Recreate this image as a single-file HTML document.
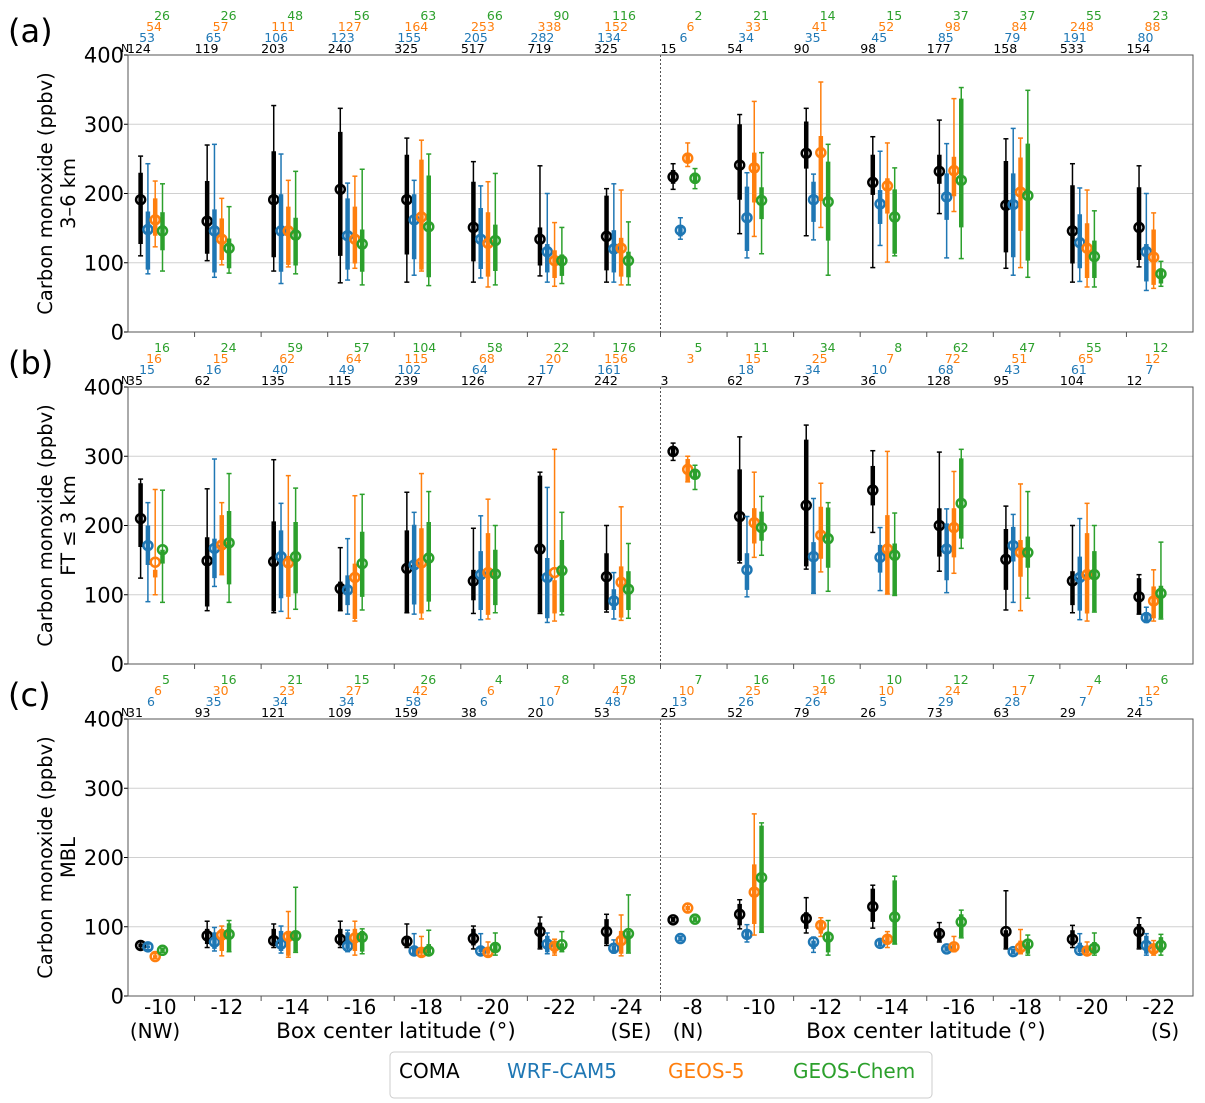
<!DOCTYPE html>
<html><head><meta charset="utf-8">
<style>
html,body{margin:0;padding:0;background:#fff;}
svg{display:block;font-family:"DejaVu Sans","Liberation Sans",sans-serif;}
</style></head>
<body>
<svg id="chart" width="1205" height="1103" viewBox="0 0 1205 1103" xmlns="http://www.w3.org/2000/svg">
<g id="legend">
<rect x="390" y="1052" width="542" height="46" fill="#fff" stroke="#ccc" stroke-width="1" rx="4"/>
<text x="399" y="1078" font-size="20" fill="#000">COMA</text>
<text x="507" y="1078" font-size="20" fill="#1f77b4">WRF-CAM5</text>
<text x="668" y="1078" font-size="20" fill="#ff7f0e">GEOS-5</text>
<text x="793" y="1078" font-size="20" fill="#2ca02c">GEOS-Chem</text>
</g>
</svg>
<script>
// ---------- data ----------
const categories = ["-10","-12","-14","-16","-18","-20","-22","-24","-8","-10","-12","-14","-16","-18","-20","-22"];
const yTicks = [0,100,200,300,400];

// Panel (a) 3-6 km
const a_coma_mean=[191,160,191,206,191,151,134,138,224,241,258,216,232,183,146,151];
const a_coma_lo=[110,103,88,71,72,72,81,72,206,142,139,93,171,92,72,94];
const a_coma_hi=[254,270,327,323,280,246,240,207,243,314,323,282,306,279,243,240];
const a_coma_q1=[127,113,108,110,112,102,96,89,214,191,236,198,214,115,99,104];
const a_coma_q3=[230,218,261,289,256,217,151,197,234,300,304,256,256,247,212,209];
const a_wrf_mean=[148,146,146,139,162,134,116,120,147,165,191,185,195,184,129,116];
const a_wrf_lo=[84,79,70,75,82,78,72,72,134,107,133,125,107,82,73,60];
const a_wrf_hi=[243,271,257,215,219,211,200,214,165,230,228,261,272,294,208,200];
const a_wrf_q1=[90,86,87,90,105,91,86,86,138,117,159,156,162,108,92,73];
const a_wrf_q3=[174,177,199,193,199,179,127,147,152,210,217,205,229,229,170,127];
const a_g5_mean=[162,134,146,134,166,128,103,121,251,237,259,211,233,202,121,108];
const a_g5_lo=[123,97,94,92,88,65,66,68,239,138,151,101,174,93,65,63];
const a_g5_hi=[218,193,219,225,277,217,158,205,273,333,361,273,337,280,205,172];
const a_g5_q1=[139,104,97,99,90,80,78,80,244,187,189,171,196,146,78,68];
const a_g5_q3=[193,164,181,181,249,173,118,136,258,259,283,222,253,252,157,148];
const a_chem_mean=[146,121,140,127,152,132,103,103,222,190,188,166,219,197,109,84];
const a_chem_lo=[88,85,84,68,67,68,70,68,207,113,82,110,106,79,65,66];
const a_chem_hi=[214,181,232,235,257,229,151,159,236,259,271,237,353,349,175,102];
const a_chem_q1=[118,92,96,87,79,88,81,79,214,163,132,113,151,103,78,70];
const a_chem_q3=[173,135,165,148,226,155,112,116,230,209,246,206,337,272,132,92];
const a_n_coma=[124,119,203,240,325,517,719,325,15,54,90,98,177,158,533,154];
const a_n_wrf=[53,65,106,123,155,205,282,134,6,34,35,45,85,79,191,80];
const a_n_g5=[54,57,111,127,164,253,338,152,6,33,41,52,98,84,248,88];
const a_n_chem=[26,26,48,56,63,66,90,116,2,21,14,15,37,37,55,23];

// Panel (b) FT <= 3 km
const b_coma_mean=[210,149,148,109,138,120,166,126,307,213,229,251,200,151,120,97];
const b_coma_lo=[124,77,74,77,74,73,73,75,294,146,137,190,134,78,74,72];
const b_coma_hi=[267,253,295,168,248,196,277,200,319,328,345,308,306,228,200,129];
const b_coma_q1=[169,83,76,77,75,92,74,78,300,149,141,229,155,107,85,73];
const b_coma_q3=[261,183,206,119,193,136,272,160,313,281,324,286,225,195,134,124];
const b_wrf_mean=[171,167,155,107,143,129,125,91,null,136,155,154,166,171,125,67];
const b_wrf_lo=[90,112,76,72,72,64,60,65,null,97,102,106,103,89,64,60];
const b_wrf_hi=[233,296,232,181,219,214,255,132,null,213,239,197,224,216,210,82];
const b_wrf_q1=[143,124,95,85,86,78,66,78,null,107,102,132,121,148,77,62];
const b_wrf_q3=[200,181,193,128,201,163,153,108,null,160,176,172,203,198,155,75];
const b_g5_mean=[147,172,146,125,146,132,132,118,281,204,186,166,197,161,129,91];
const b_g5_lo=[100,129,66,62,65,65,62,63,263,154,133,101,131,77,62,62];
const b_g5_hi=[252,233,272,243,275,238,310,227,300,277,261,307,278,260,232,136];
const b_g5_q1=[125,130,97,65,73,71,73,67,263,174,152,101,154,126,73,66];
const b_g5_q3=[136,215,156,145,196,189,121,141,296,225,227,215,225,179,189,112];
const b_chem_mean=[165,175,155,145,153,130,135,108,274,197,181,157,232,161,129,102];
const b_chem_lo=[89,89,79,78,77,74,71,66,252,157,105,99,167,95,75,65];
const b_chem_hi=[251,275,254,245,249,200,219,174,287,242,233,218,310,249,200,176];
const b_chem_q1=[145,115,102,97,90,85,75,78,268,178,139,99,181,139,76,66];
const b_chem_q3=[165,221,205,191,205,165,179,134,280,220,226,174,297,184,163,113];
const b_n_coma=[35,62,135,115,239,126,27,242,3,62,73,36,128,95,104,12];
const b_n_wrf=[15,16,40,49,102,64,17,161,"",18,34,10,68,43,61,7];
const b_n_g5=[16,15,62,64,115,68,20,156,3,15,25,7,72,51,65,12];
const b_n_chem=[16,24,59,57,104,58,22,176,5,11,34,8,62,47,55,12];

// Panel (c) MBL
const c_coma_mean=[73,87,80,82,79,83,93,93,110,118,112,129,90,93,82,93];
const c_coma_lo=[68,70,70,70,70,68,68,73,107,97,91,98,78,68,70,68];
const c_coma_hi=[78,108,104,108,104,101,114,118,113,139,142,160,106,152,102,113];
const c_coma_q1=[70,75,73,73,73,73,69,75,108,102,97,107,79,69,73,69];
const c_coma_q3=[76,97,97,97,85,97,106,111,112,133,121,155,97,95,95,104];
const c_wrf_mean=[71,78,75,72,65,65,75,69,83,89,78,76,68,64,66,73];
const c_wrf_lo=[67,65,62,64,61,61,61,62,80,78,63,70,65,61,61,59];
const c_wrf_hi=[75,99,101,95,90,90,91,81,86,103,85,80,71,67,90,90];
const c_wrf_q1=[69,68,65,68,62,63,63,63,81,82,68,72,66,62,63,61];
const c_wrf_q3=[73,92,94,92,73,73,87,73,85,95,80,79,70,66,77,87];
const c_g5_mean=[57,88,86,84,63,63,72,80,127,150,102,82,71,70,65,68];
const c_g5_lo=[54,58,56,59,59,59,59,58,122,88,86,70,64,61,59,59];
const c_g5_hi=[61,101,122,108,86,78,82,117,133,263,113,93,86,96,78,80];
const c_g5_q1=[55,65,58,65,61,61,61,61,124,104,90,74,66,62,61,62];
const c_g5_q3=[59,97,94,97,69,71,80,94,130,190,107,88,75,80,70,76];
const c_chem_mean=[66,89,87,85,65,70,74,90,111,171,85,114,107,75,69,73];
const c_chem_lo=[63,64,63,61,59,59,64,62,108,92,59,75,84,59,59,59];
const c_chem_hi=[69,109,157,97,95,91,93,146,114,250,109,173,124,88,91,89];
const c_chem_q1=[64,65,64,64,61,62,64,63,109,92,63,75,85,61,61,63];
const c_chem_q3=[68,105,94,94,75,77,76,94,113,246,92,167,118,79,78,85];
const c_n_coma=[31,93,121,109,159,38,20,53,25,52,79,26,73,63,29,24];
const c_n_wrf=[6,35,34,34,58,6,10,48,13,26,26,5,29,28,7,15];
const c_n_g5=[6,30,23,27,42,6,7,47,10,25,34,10,24,17,7,12];
const c_n_chem=[5,16,21,15,26,4,8,58,7,16,16,10,12,7,4,6];

// ---------- layout ----------
const NS="http://www.w3.org/2000/svg";
const svg=document.getElementById('chart');
const X0=128, X1=1193, GW=(X1-X0)/16, PH=277;
const colors=["#000000","#1f77b4","#ff7f0e","#2ca02c"];
const seriesNames=["coma","wrf-cam5","geos-5","geos-chem"];
const offsets=[12.6,19.9,27.2,34.5];
function el(tag,attrs,parent){const e=document.createElementNS(NS,tag);for(const k in attrs)e.setAttribute(k,attrs[k]);(parent||svg).appendChild(e);return e;}
function xBand(i){return X0+GW*i;}

const panels=[
 {id:"a",top:55,label:"(a)",sub:"3\u20136 km",
  s:[[a_coma_mean,a_coma_lo,a_coma_hi,a_coma_q1,a_coma_q3],[a_wrf_mean,a_wrf_lo,a_wrf_hi,a_wrf_q1,a_wrf_q3],[a_g5_mean,a_g5_lo,a_g5_hi,a_g5_q1,a_g5_q3],[a_chem_mean,a_chem_lo,a_chem_hi,a_chem_q1,a_chem_q3]],
  n:[a_n_coma,a_n_wrf,a_n_g5,a_n_chem]},
 {id:"b",top:387,label:"(b)",sub:"FT \u2264 3 km",
  s:[[b_coma_mean,b_coma_lo,b_coma_hi,b_coma_q1,b_coma_q3],[b_wrf_mean,b_wrf_lo,b_wrf_hi,b_wrf_q1,b_wrf_q3],[b_g5_mean,b_g5_lo,b_g5_hi,b_g5_q1,b_g5_q3],[b_chem_mean,b_chem_lo,b_chem_hi,b_chem_q1,b_chem_q3]],
  n:[b_n_coma,b_n_wrf,b_n_g5,b_n_chem]},
 {id:"c",top:719,label:"(c)",sub:"MBL",
  s:[[c_coma_mean,c_coma_lo,c_coma_hi,c_coma_q1,c_coma_q3],[c_wrf_mean,c_wrf_lo,c_wrf_hi,c_wrf_q1,c_wrf_q3],[c_g5_mean,c_g5_lo,c_g5_hi,c_g5_q1,c_g5_q3],[c_chem_mean,c_chem_lo,c_chem_hi,c_chem_q1,c_chem_q3]],
  n:[c_n_coma,c_n_wrf,c_n_g5,c_n_chem]}
];

panels.forEach((p,pi)=>{
  const g=el('g',{});
  
  
  const y=v=>p.top+PH-v/400*PH;
  yTicks.forEach(t=>{
    if(t>0&&t<400){
      const gl=el('line',{x1:X0,x2:X1,y1:y(t),y2:y(t),stroke:"#d0d0d0","stroke-width":1},g);
      
      
    }
    const tk=el('line',{x1:X0-4,x2:X0,y1:y(t),y2:y(t),stroke:"#000","stroke-width":1},g);
    
    
    const tl=el('text',{x:X0-4,y:y(t)+7.5,"font-size":21,"text-anchor":"end",fill:"#000"},g);
    tl.textContent=t;
    
    
  });
  const fr=el('rect',{x:X0,y:p.top,width:X1-X0,height:PH,fill:"none",stroke:"#555","stroke-width":1},g);
  
  
  const dv=el('line',{x1:xBand(8),x2:xBand(8),y1:p.top,y2:p.top+PH,stroke:"#555","stroke-width":1,"stroke-dasharray":"2,2"},g);
  
  
  for(let i=1;i<16;i++){
    const xt=el('line',{x1:xBand(i),x2:xBand(i),y1:p.top+PH,y2:p.top+PH+5,stroke:"#555","stroke-width":1},g);
    
    
  }
  const pl=el('text',{x:8,y:p.top-13,"font-size":32,fill:"#000"},g);
  pl.textContent=p.label;
  
  
  const nl=el('text',{x:121,y:p.top-3,"font-size":11,fill:"#000"},g);
  nl.textContent="N";
  
  
  const cy=p.top+PH/2;
  const yt=el('text',{x:0,y:0,"font-size":19.5,"text-anchor":"middle",fill:"#000",transform:`translate(52,${cy}) rotate(-90)`},g);
  yt.textContent="Carbon monoxide (ppbv)";
  
  
  const ys=el('text',{x:0,y:0,"font-size":19.5,"text-anchor":"middle",fill:"#000",transform:`translate(75,${cy}) rotate(-90)`},g);
  ys.textContent=p.sub;
  
  
  const rowY=[p.top-2,p.top-13,p.top-24,p.top-35];
  const ends=[0,27,34,42];
  for(let s=0;s<4;s++){
    p.n[s].forEach((cnt,i)=>{
      const t=el('text',{x:s===0?xBand(i)-(i===0?1:0):xBand(i)+ends[s],y:rowY[s],"font-size":12.5,"text-anchor":s===0?"start":"end",fill:colors[s]},g);
      t.textContent=cnt;
      
      
    });
  }
  for(let s=0;s<4;s++){
    const [mean,lo,hi,q1,q3]=p.s[s];
    const sg=el('g',{},g);
    
    
    mean.forEach((m,i)=>{
      if(m===null)return;
      const x=xBand(i)+offsets[s];
      const w=el('line',{x1:x,x2:x,y1:y(hi[i]),y2:y(lo[i]),stroke:colors[s],"stroke-width":1.5},sg);
      
      
      [hi[i],lo[i]].forEach(v=>{
        const c=el('line',{x1:x-2.5,x2:x+2.5,y1:y(v),y2:y(v),stroke:colors[s],"stroke-width":1.5},sg);
        
        
      });
      const b=el('line',{x1:x,x2:x,y1:y(q3[i]),y2:y(q1[i]),stroke:colors[s],"stroke-width":4.5},sg);
      
      
      const c=el('circle',{cx:x,cy:y(m),r:4.5,fill:"none",stroke:colors[s],"stroke-width":2.5},sg);
      
      
    });
  }
});

const xg=el('g',{});


categories.forEach((c,i)=>{
  const t=el('text',{x:xBand(i)+GW/2-1,y:1014,"font-size":20,"text-anchor":"middle",fill:"#000"},xg);
  t.textContent=c;
  
  
});
[["(NW)",155],["(SE)",631],["(N)",688],["(S)",1165]].forEach(([s,x])=>{
  const t=el('text',{x:x,y:1038,"font-size":20,"text-anchor":"middle",fill:"#000"},xg);
  t.textContent=s;
  
  
});
[396,926].forEach(x=>{
  const t=el('text',{x:x,y:1038,"font-size":21.5,"text-anchor":"middle",fill:"#000"},xg);
  t.textContent="Box center latitude (\u00b0)";
  
  
});
</script>
</body></html>
